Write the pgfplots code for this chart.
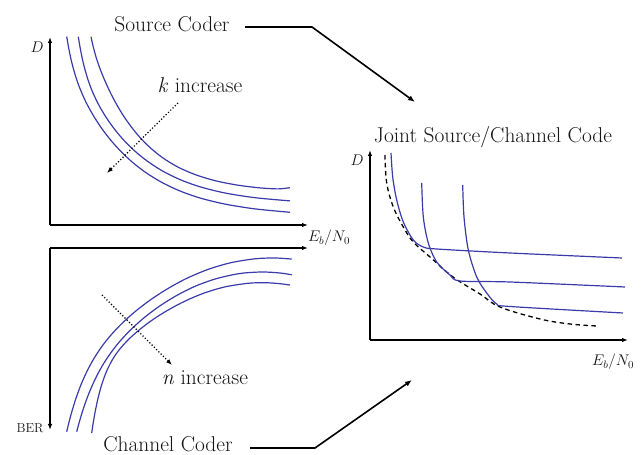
\documentclass[border=0pt]{standalone}
\usepackage{fix-cm}
\usepackage{fontspec}
\usepackage{pgfplots}
\pgfplotsset{compat=1.18}
\usetikzlibrary{arrows.meta}
\definecolor{curveblue}{RGB}{58,58,170}
\definecolor{txt}{RGB}{20,20,20}
\newcommand{\bigfont}{\fontsize{21.5}{24}\selectfont}
\newcommand{\smallfont}{\fontsize{15.5}{17}\selectfont}
\pgfplotsset{
  concept/.style={x=1bp,y=1bp,anchor=south west,xtick=\empty,ytick=\empty,clip=false,
    axis line style={line width=1.4bp,black}},
}
\begin{document}
\begin{tikzpicture}[x=1bp,y=1bp]
\useasboundingbox (0,0) rectangle (643,455);
% Source coder: D vs Eb/N0
\begin{axis}[concept,at={(50,230)},xmin=50,xmax=308,ymin=230,ymax=418,
  axis lines=left,
  x axis line style={-{Latex[length=6bp,width=4.5bp]}},
  y axis line style={-{Latex[length=6bp,width=4.5bp]}}]
\addplot[curveblue,line width=1.2bp,smooth,tension=0.5,mark=none] coordinates {(66.7,418.4)(69,405.3)(72,391.5)(76,377.5)(80,366.3)(86,352.8)(93,340)(101,327.6)(110,315.7)(120,304.5)(132,293.1)(146,282.3)(162,272.5)(180,264)(200,257)(225,250.9)(255,246.1)(290,242.7)};
\addplot[curveblue,line width=1.2bp,smooth,tension=0.5,mark=none] coordinates {(78.3,418.3)(80.6,404.7)(83.5,391.1)(87.5,376.8)(92,364.4)(98,351.5)(105,339.4)(113,327.8)(122,316.8)(133,305.6)(146,294.8)(162,284.3)(180,275.4)(200,268.2)(225,262)(255,257.3)(290,254.1)};
\addplot[curveblue,line width=1.2bp,smooth,tension=0.5,mark=none] coordinates {(91,418.3)(93,409.2)(96,398.1)(100,386.3)(105,374)(111,361.1)(118,348.1)(126,335.4)(136,322.1)(148,309.3)(162,297.7)(178,287.9)(196,280.1)(216,274.1)(238,269.8)(260,267.1)(278,266.1)(290,267.3)};
\end{axis}
% Channel coder: BER vs Eb/N0
\begin{axis}[concept,at={(50,25)},xmin=50,xmax=308,ymin=25,ymax=207,
  axis x line=top,axis y line=left,
  x axis line style={-{Latex[length=6bp,width=4.5bp]}},
  y axis line style={{Latex[length=6bp,width=4.5bp]}-}]
\addplot[curveblue,line width=1.2bp,smooth,tension=0.5,mark=none] coordinates {(66.7,23.3)(69,32.8)(72,43.9)(76,56.7)(81,70.3)(87,83.7)(94,96.6)(102,108.7)(111,120)(122,131.6)(135,143.3)(150,154.8)(167,165.9)(186,176.3)(207,185.2)(230,192.1)(255,196.2)(275,197)(291.7,195.9)};
\addplot[curveblue,line width=1.2bp,smooth,tension=0.5,mark=none] coordinates {(76.7,23.3)(79,31.9)(82,42.1)(86,54)(91,66.7)(97,79.6)(104,92)(112,103.8)(121,115)(132,126.5)(145,138)(160,149.2)(177,159.7)(196,169.1)(217,176.5)(240,181.5)(262,183)(280,182)(291.7,180.2)};
\addplot[curveblue,line width=1.2bp,smooth,tension=0.5,mark=none] coordinates {(91.7,22)(93,30.8)(95,42.4)(98,56.7)(102,71.3)(107,84.7)(113,96.3)(120,106.2)(129,116)(140,125.7)(153,135.5)(168,144.9)(185,153.9)(204,161.9)(225,168.1)(248,171.7)(265,172.3)(280,171.3)(290,169.9)};
\end{axis}
% Joint source/channel code
\begin{axis}[concept,at={(370,115)},xmin=370,xmax=628,ymin=115,ymax=305,
  axis lines=left,
  x axis line style={-{Latex[length=6bp,width=4.5bp]}},
  y axis line style={-{Latex[length=6bp,width=4.5bp]}}]
\addplot[black,line width=1.3bp,dash pattern=on 4.5bp off 3.5bp,smooth,tension=0.6,mark=none] coordinates {(385,300)(386.7,272)(393.3,248)(403.3,228)(413.3,213)(430,198)(453,178)(480,161)(500,148)(540,136)(570,131)(597,129)};
\addplot[curveblue,line width=1.2bp,smooth,tension=0.5,mark=none] coordinates {(391,302)(392.7,278)(396.7,255)(403.3,233)(413.3,215)(423.3,208)(436.7,206)(510,202)(622,197)};
\addplot[curveblue,line width=1.2bp,smooth,tension=0.5,mark=none] coordinates {(421.7,272)(423.3,238)(428.3,212)(436.7,193)(450,180)(460,174)(510,173)(625,168)};
\addplot[curveblue,line width=1.2bp,smooth,tension=0.5,mark=none] coordinates {(462.7,270)(464,238)(468.3,205)(476.7,178)(486.7,162)(496.7,151)(510,148.5)(623,142)};
\end{axis}
% annotations
\draw[dotted,line width=1.2bp,-{Latex[length=6bp,width=4.5bp]}] (178,352) -- (107,282);
\draw[dotted,line width=1.2bp,-{Latex[length=6bp,width=4.5bp]}] (102,160) -- (172,90);
\draw[line width=1.6bp,-{Latex[length=7bp,width=5.5bp]}] (245,428) -- (312,428) -- (415,353);
\draw[line width=1.6bp,-{Latex[length=7bp,width=5.5bp]}] (250,7) -- (315,7) -- (412,75);
\node[anchor=base,text=txt,inner sep=0] at (172,423) {\bigfont Source Coder};
\node[anchor=base,text=txt,inner sep=0] at (200,362) {\bigfont\textit{k} increase};
\node[anchor=base,text=txt,inner sep=0] at (205,70) {\bigfont\textit{n} increase};
\node[anchor=base,text=txt,inner sep=0] at (168,3) {\bigfont Channel Coder};
\node[anchor=base,text=txt,inner sep=0] at (493,312) {\bigfont Joint Source/Channel Code};
\node[text=txt,inner sep=0] at (37,408) {\smallfont$D$};
\node[text=txt,inner sep=0] at (357,295) {\smallfont$D$};
\node[text=txt,inner sep=0] at (329,217) {\smallfont$E_b/N_0$};
\node[text=txt,inner sep=0] at (613,93) {\smallfont$E_b/N_0$};
\node[text=txt,inner sep=0] at (30,27) {\fontsize{13}{15}\selectfont BER};
\end{tikzpicture}
\end{document}
